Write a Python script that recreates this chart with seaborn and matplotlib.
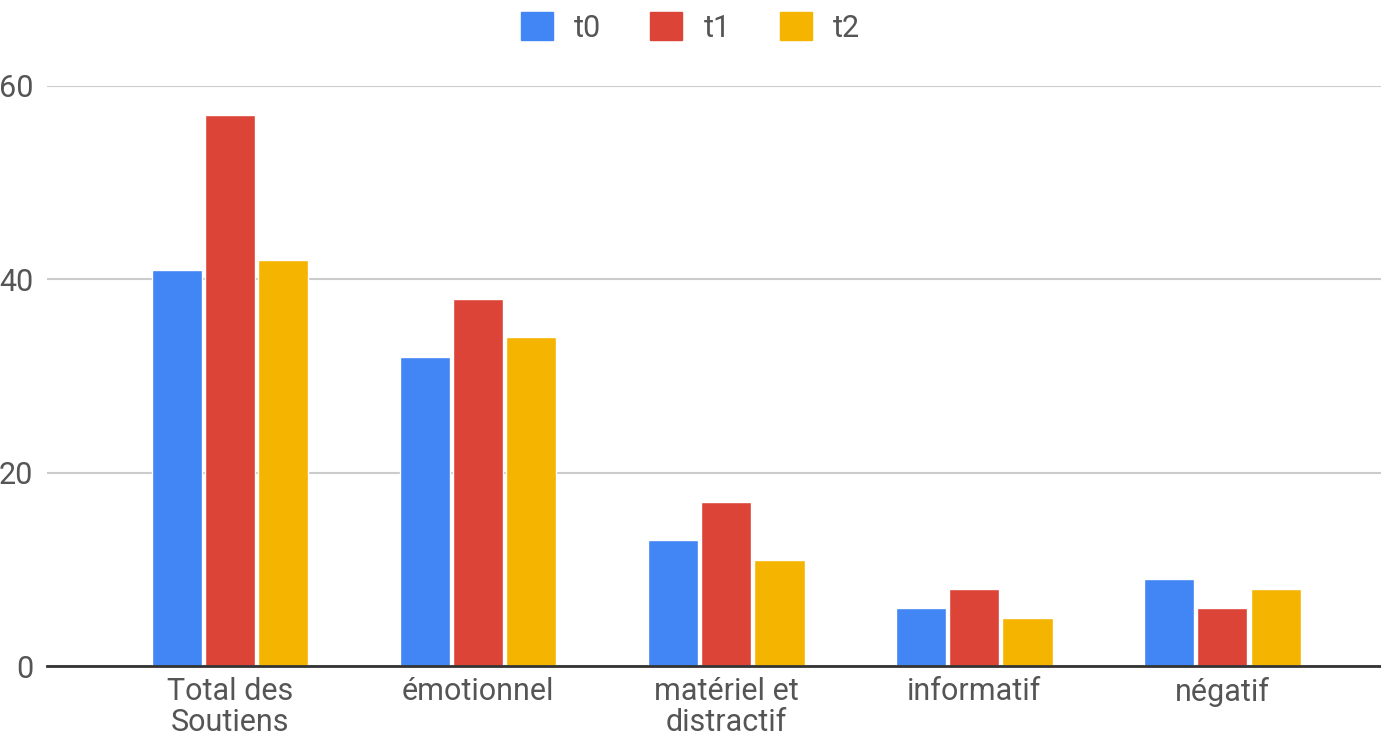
import matplotlib
matplotlib.use("Agg")
import matplotlib.pyplot as plt
import seaborn as sns
import pandas as pd
from matplotlib.patches import Patch

categories = ["Total des\nSoutiens", "émotionnel", "matériel et\ndistractif", "informatif", "négatif"]
series_names = ["t0", "t1", "t2"]
t0 = [41, 32, 13, 6, 9]
t1 = [57, 38, 17, 8, 6]
t2 = [42, 34, 11, 5, 8]
colors = ["#4285F4", "#DB4437", "#F4B400"]
yticks = [0, 20, 40, 60]

rows = []
for name, vals in zip(series_names, [t0, t1, t2]):
    for c, v in zip(categories, vals):
        rows.append({"cat": c, "series": name, "value": v})
df = pd.DataFrame(rows)

sns.set_theme(style="white")
plt.rcParams['font.family'] = ['Roboto', 'DejaVu Sans']

fig = plt.figure(figsize=(13.81, 7.40), dpi=100)
ax = fig.add_axes([0.034, 0.10, 0.966, 0.7838])

sns.barplot(data=df, x="cat", y="value", hue="series", order=categories,
            hue_order=series_names, palette=colors, width=0.645, gap=0.06,
            saturation=1, ax=ax, legend=False, errorbar=None)

ax.set_ylim(0, 60)
ax.set_xlim(-0.738, 4.64)
ax.set_yticks(yticks)
ax.yaxis.grid(True, color="#cccccc", linewidth=1.5)
ax.set_axisbelow(True)
for s in ["top", "right", "left"]:
    ax.spines[s].set_visible(False)
ax.spines["bottom"].set_color("#333333")
ax.spines["bottom"].set_linewidth(2)
ax.set_xlabel("")
ax.set_ylabel("")
ax.tick_params(axis="both", length=0, labelsize=22, labelcolor="#555555")
ax.tick_params(axis="y", pad=10)
ax.tick_params(axis="x", pad=8)
for lbl in ax.get_xticklabels():
    lbl.set_linespacing(1.1)

handles = [Patch(facecolor=c, edgecolor=c, label=n) for c, n in zip(colors, series_names)]
fig.legend(handles=handles, loc="center", bbox_to_anchor=(0.5, 0.963), ncol=3,
           frameon=False, fontsize=22, handlelength=1.05, handleheight=1.05,
           handletextpad=0.7, columnspacing=1.6, labelcolor="#555555")

fig.savefig("out.png", dpi=100)
